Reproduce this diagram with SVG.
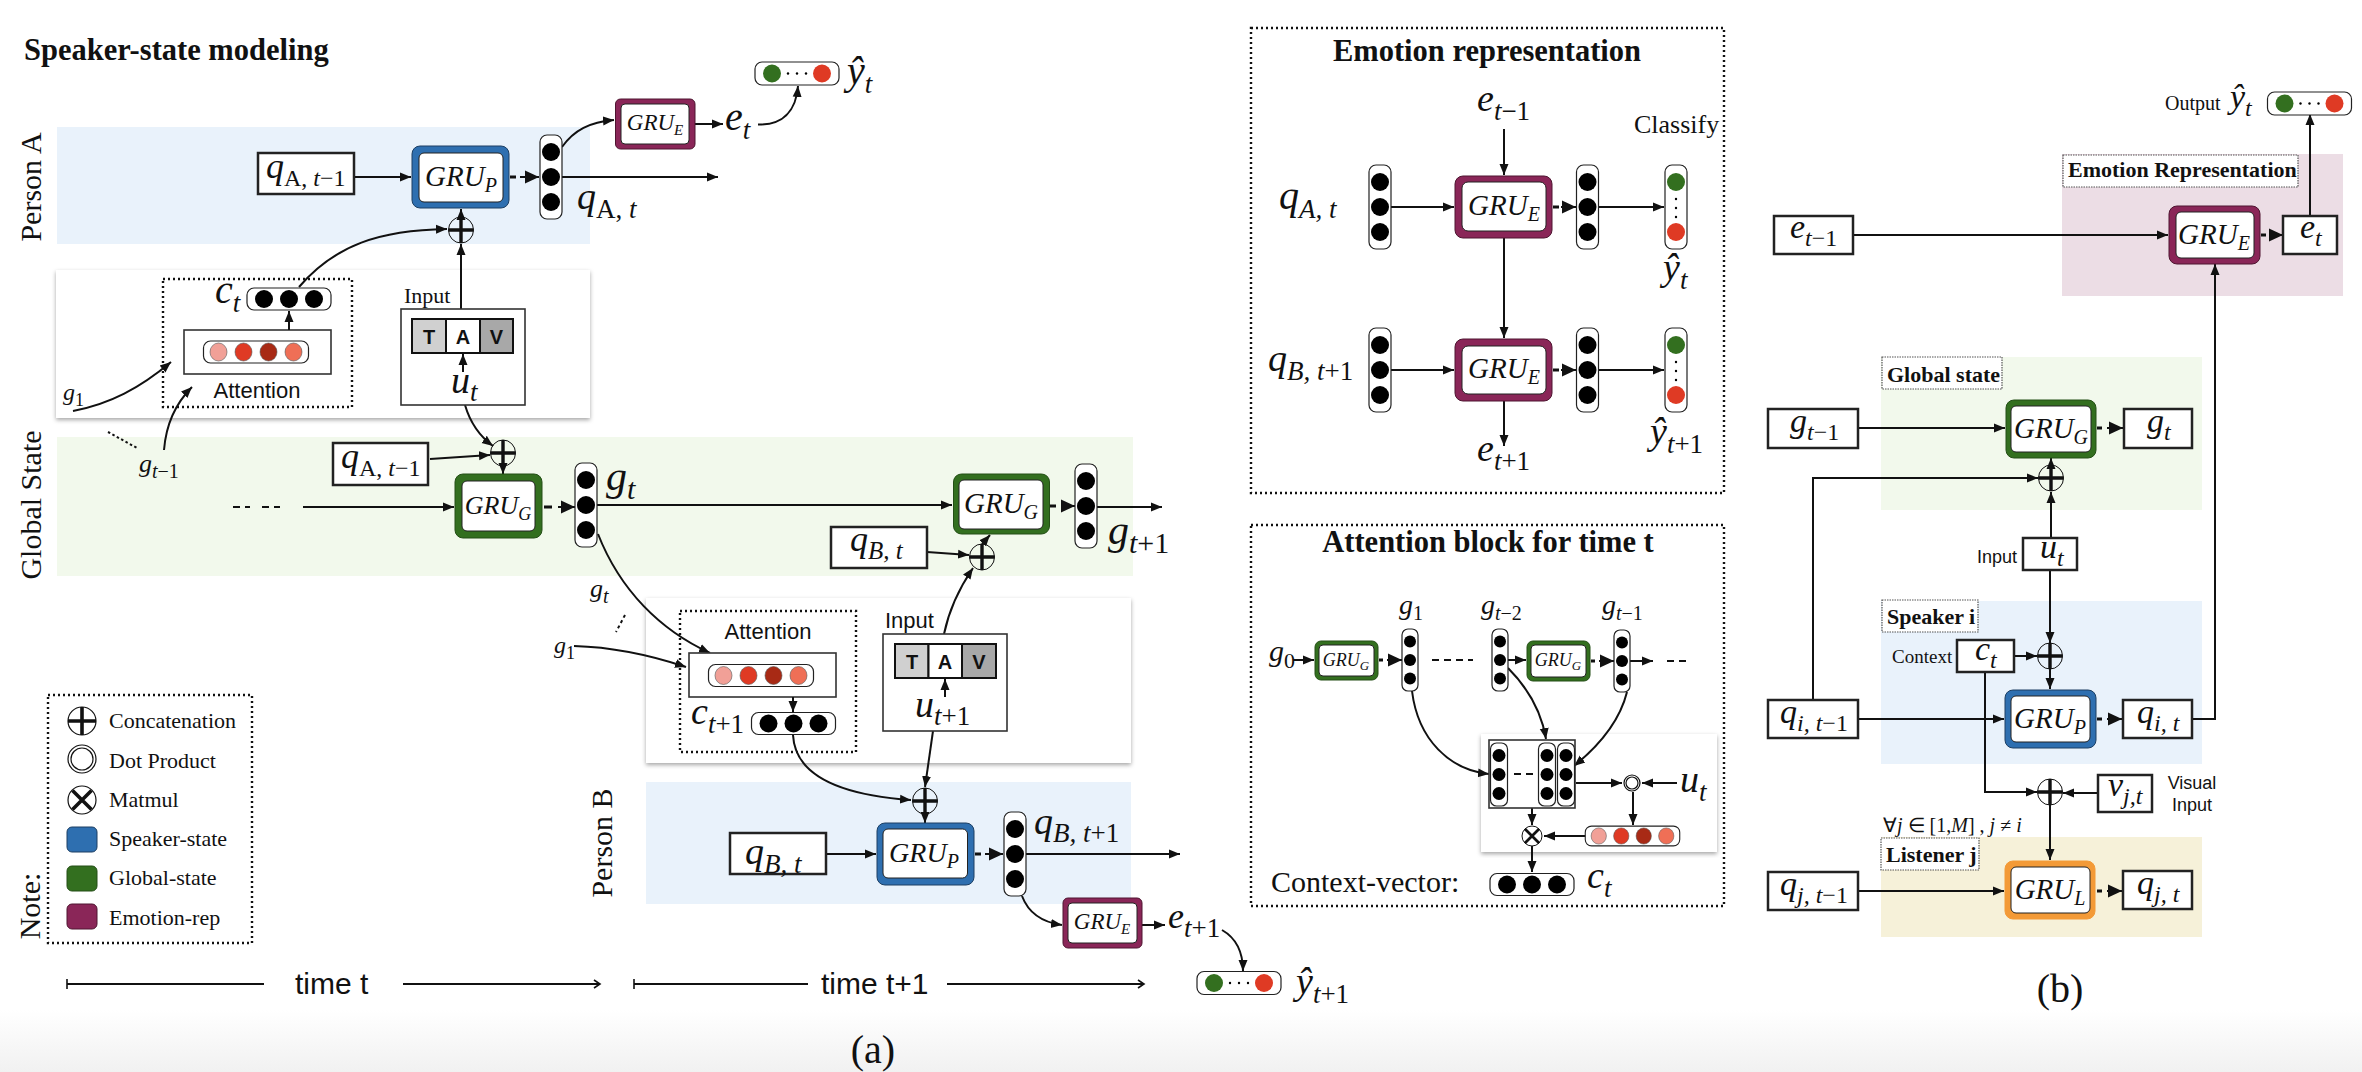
<svg xmlns="http://www.w3.org/2000/svg" width="2362" height="1072" viewBox="0 0 2362 1072">
<style>
text{fill:#111}
.m{font-family:"Liberation Serif",serif;font-style:italic}
.up{font-style:normal}
.ser{font-family:"Liberation Serif",serif}
.san{font-family:"Liberation Sans",sans-serif}
.b{font-weight:bold}
.f42{font-size:42px}.f40{font-size:40px}.f38{font-size:38px}.f36{font-size:36px}.f34{font-size:34px}.f32{font-size:32px}.f30{font-size:30px}.t30{font-size:30.500px}.f29{font-size:29px}.f28{font-size:28px}.f27{font-size:27px}.f26{font-size:26px}.f25{font-size:25px}.f24{font-size:24px}.f23{font-size:23px}.f22{font-size:22px}.f20{font-size:20px}.f19{font-size:19px}.f18{font-size:18px}.f15{font-size:15px}.f13{font-size:13px}
.c{text-anchor:middle}
.line{fill:none;stroke:#111;stroke-width:2}
.ar{marker-end:url(#a)}
.big{marker-end:url(#bg)}
.tm{marker-start:url(#tick);marker-end:url(#op)}
.dash{fill:none;stroke:#111;stroke-width:3}
.dsh2{fill:none;stroke:#111;stroke-width:2;stroke-dasharray:7 5}
.box{fill:#fff;stroke:#222;stroke-width:2.5}
.tbox{fill:#fff;stroke:#333;stroke-width:1.6}
.dot{fill:none;stroke:#111;stroke-width:2.4;stroke-dasharray:2 3}
.lab{fill:#fff;stroke:#555;stroke-width:1.2;stroke-dasharray:1.5 1}
.pan{fill:#fff;filter:url(#sh)}
.bA{fill:#e9f2fb}.bG{fill:#f2f9ec}.bE{fill:#ecdde5}.bL{fill:#f6f1d9}
.in{fill:#fff;stroke:#222;stroke-width:1}
.P{fill:#2e6fb0;stroke:#1c3f63;stroke-width:1}
.G{fill:#336f1f;stroke:#244f16;stroke-width:1}
.E{fill:#8a2658;stroke:#4e1530;stroke-width:1}
.L{fill:#f39a37;stroke:#f39a37;stroke-width:1}
.vr{fill:#fff;stroke:#222;stroke-width:1.2}
</style>
<defs>
<linearGradient id="bgG" x1="0" y1="0" x2="0" y2="1"><stop offset="0" stop-color="#fff"/><stop offset="1" stop-color="#f1f1f1"/></linearGradient>
<filter id="sh" x="-3%" y="-3%" width="106%" height="108%"><feDropShadow dx="0" dy="2" stdDeviation="2" flood-color="#000" flood-opacity=".35"/></filter>
<marker id="a" markerUnits="userSpaceOnUse" markerWidth="12" markerHeight="12" refX="11" refY="6" orient="auto"><path d="M0,1.5L11,6L0,10.5z" fill="#111"/></marker>
<marker id="bg" markerUnits="userSpaceOnUse" markerWidth="16" markerHeight="16" refX="15" refY="8" orient="auto"><path d="M1,1.5L15,8L1,14.5z" fill="#111"/></marker>
<marker id="op" markerUnits="userSpaceOnUse" markerWidth="10" markerHeight="10" refX="8" refY="5" orient="auto"><path d="M2,1L8,5L2,9" fill="none" stroke="#111" stroke-width="1.6"/></marker>
<marker id="tick" markerUnits="userSpaceOnUse" markerWidth="4" markerHeight="12" refX="1" refY="6" orient="auto"><path d="M1,1V11" fill="none" stroke="#111" stroke-width="1.6"/></marker>
<g id="vv"><rect class="vr" x="-11" y="-42" width="22" height="84" rx="7"/><circle cy="-25" r="9"/><circle r="9"/><circle cy="25" r="9"/></g>
<g id="hv"><rect class="vr" x="-42" y="-11" width="84" height="22" rx="7"/><circle cx="-25" r="9"/><circle r="9"/><circle cx="25" r="9"/></g>
<g id="vs"><rect class="vr" x="-8" y="-31" width="16" height="62" rx="6"/><circle cy="-18.5" r="6"/><circle r="6"/><circle cy="18.5" r="6"/></g>
<g id="vt"><rect class="vr" x="-8.5" y="-31.5" width="17" height="63" rx="6"/><circle cy="-19" r="6.5"/><circle r="6.5"/><circle cy="19" r="6.5"/></g>
<g id="rv"><rect class="vr" x="-52.5" y="-11" width="105" height="22" rx="7"/><ellipse cx="-37.5" rx="8.5" ry="9" fill="#f1a097" stroke="#555" stroke-width=".6"/><ellipse cx="-12.5" rx="8.5" ry="9" fill="#df3a24" stroke="#555" stroke-width=".6"/><ellipse cx="12.5" rx="8.5" ry="9" fill="#a82a15" stroke="#555" stroke-width=".6"/><ellipse cx="37.5" rx="8.5" ry="9" fill="#ef6f56" stroke="#555" stroke-width=".6"/></g>
<g id="ov"><rect class="vr" x="-42" y="-11.5" width="84" height="23" rx="7"/><circle cx="-25" r="9" fill="#336f1f"/><circle cx="25" r="9" fill="#df3a24"/><circle cx="-9" r="1.2"/><circle r="1.2"/><circle cx="9" r="1.2"/></g>
<g id="cv"><rect class="vr" x="-11" y="-42" width="22" height="84" rx="7"/><circle cy="-25" r="9" fill="#336f1f"/><circle cy="25" r="9" fill="#df3a24"/><circle cy="-8" r="1.2"/><circle cy="1" r="1.2"/><circle cy="10" r="1.2"/></g>
<g id="plus"><ellipse rx="12.5" ry="13" fill="none" stroke="#111" stroke-width="1"/><path d="M-12.5,0H12.5M0,-13V13" fill="none" stroke="#111" stroke-width="3.4"/></g>
</defs>
<rect width="2362" height="1072" fill="#fff"/>
<rect y="1010" width="2362" height="62" fill="url(#bgG)"/>

<g id="bands">
<rect class="bA" x="57" y="127" width="533" height="117"/>
<rect class="bG" x="57" y="437" width="1076" height="139"/>
<rect class="bA" x="646" y="782" width="485" height="122"/>
<rect class="pan" x="56" y="270" width="534" height="148"/>
<rect class="pan" x="646" y="598" width="485" height="165"/>
<rect class="pan" x="1481" y="734" width="236" height="118"/>
<rect class="bE" x="2062" y="154" width="281" height="142"/>
<rect class="bG" x="1881" y="357" width="321" height="153"/>
<rect class="bA" x="1881" y="601" width="321" height="163"/>
<rect class="bL" x="1881" y="837" width="321" height="100"/>
</g>

<g id="connectors">
<path class="line ar" d="M354,177H411"/>
<path class="dash" d="M510,177H516"/><path class="line big" d="M520,177H539"/>
<path class="line ar" d="M562,177H718"/>
<path class="line ar" d="M562,147C574,130 590,122 614,120"/>
<path class="line ar" d="M695,124H723"/>
<path class="line ar" d="M758,124.500C782,125 796,112 798,86"/>
<path class="line ar" d="M299,287C335,245 380,230 447,229"/>
<path class="line ar" d="M461,309V244"/>
<path class="line ar" d="M461,217V209"/>
<path class="line ar" d="M73,411C110,404 140,388 171,362"/>
<path class="line ar" d="M164,450C166,425 174,405 192,387"/>
<path class="dsh2" d="M108,432L137,448" style="stroke-dasharray:2.500 2.500"/>
<path class="dsh2" d="M233,507H250M262,507H280"/>
<path class="line ar" d="M303,507H454"/>
<path class="line ar" d="M430,459L490,455"/>
<path class="line ar" d="M465,405C470,422 478,435 493,446"/>
<path class="line ar" d="M503,466V474"/>
<path class="dash" d="M544,507H552"/><path class="line big" d="M558,507H575"/>
<path class="line ar" d="M597,505H952"/>
<path class="dash" d="M1050,506H1056"/><path class="line big" d="M1061,506H1075"/>
<path class="line ar" d="M1097,507H1162"/>
<path class="line ar" d="M927,552L969,555"/>
<path class="line ar" d="M982,544L990,535"/>
<path class="line ar" d="M944,634C949,610 958,590 973,568"/>
<path class="line ar" d="M598,534C620,590 660,630 710,653"/>
<path class="dsh2" d="M625,615L616,632" style="stroke-dasharray:3 3"/>
<path class="line ar" d="M574,646C610,647 650,655 686,667"/>
<path class="line ar" d="M933,731L925,787"/>
<path class="line ar" d="M793,735C795,775 840,795 911,800"/>
<path class="line ar" d="M925,814V823"/>
<path class="line ar" d="M826,854H876"/>
<path class="dash" d="M975,854H981"/><path class="line big" d="M985,854H1003"/>
<path class="line ar" d="M1026,854H1180"/>
<path class="line ar" d="M1022,896C1028,912 1040,922 1062,925"/>
<path class="line ar" d="M1142,925H1165"/>
<path class="line ar" d="M1222,930C1236,938 1243,952 1243,971"/>
<path class="line tm" d="M67,984H264" style="marker-end:none"/><path class="line tm" d="M403,984H600" style="marker-start:none"/>
<path class="line tm" d="M634,984H808" style="marker-end:none"/><path class="line tm" d="M947,984H1144" style="marker-start:none"/>

<path class="line ar" d="M1504,129V175"/>
<path class="line ar" d="M1391,207H1454"/>
<path class="dash" d="M1553,207H1559"/><path class="line big" d="M1561,207H1576"/>
<path class="line ar" d="M1599,207H1664"/>
<path class="line ar" d="M1504,238V338"/>
<path class="line ar" d="M1391,370H1454"/>
<path class="dash" d="M1553,370H1559"/><path class="line big" d="M1561,370H1576"/>
<path class="line ar" d="M1599,370H1664"/>
<path class="line ar" d="M1504,401V446"/>

<path class="line ar" d="M1293,660H1314"/>
<path class="dash" d="M1379,660H1383"/><path class="line big" d="M1387,660H1402"/>
<path class="dsh2" d="M1432,660H1473"/>
<path class="line ar" d="M1508,660H1526"/>
<path class="dash" d="M1591,661H1595"/><path class="line big" d="M1599,661H1614"/>
<path class="line ar" d="M1630,661H1653"/>
<path class="dsh2" d="M1667,661H1691"/>
<path class="line ar" d="M1412,691C1418,740 1450,770 1489,774"/>
<path class="line ar" d="M1508,668C1530,690 1542,715 1546,739"/>
<path class="line ar" d="M1627,692C1620,720 1600,745 1574,766"/>
<path class="dsh2" d="M1514,774H1533"/>
<path class="line ar" d="M1576,783H1622"/>
<path class="line ar" d="M1677,783H1642"/>
<path class="line ar" d="M1633,792V825"/>
<path class="line ar" d="M1586,836H1544"/>
<path class="line ar" d="M1532,808V825"/>
<path class="line ar" d="M1532,846V872"/>

<path class="line ar" d="M1853,235H2168"/>
<path class="dash" d="M2261,235H2266"/><path class="line big" d="M2269,235H2283"/>
<path class="line ar" d="M2310,216V114"/>
<path class="line ar" d="M2192,719H2215V264"/>
<path class="line ar" d="M1858,428H2005"/>
<path class="dash" d="M2097,428H2102"/><path class="line big" d="M2107,428H2123"/>
<path class="line ar" d="M1813,700V478H2038"/>
<path class="line ar" d="M2051,466V458"/>
<path class="line ar" d="M2051,538V492"/>
<path class="line ar" d="M2050,570V643"/>
<path class="line ar" d="M2014,656H2037"/>
<path class="line ar" d="M2050,669V689"/>
<path class="line ar" d="M1858,719H2004"/>
<path class="dash" d="M2097,719H2102"/><path class="line big" d="M2107,719H2122"/>
<path class="line ar" d="M1985,672V792H2037"/>
<path class="line ar" d="M2098,793H2063"/>
<path class="line ar" d="M2050,805V860"/>
<path class="line ar" d="M1858,891H2004"/>
<path class="dash" d="M2097,891H2102"/><path class="line big" d="M2107,891H2122"/>
</g>

<g id="title-a"><text class="ser b t30" x="24" y="60">Speaker-state modeling</text></g>
<g id="lbl-personA"><text class="ser f30 c" transform="translate(41,187) rotate(-90)">Person A</text></g>
<g id="lbl-global"><text class="ser f30 c" transform="translate(41,505) rotate(-90)">Global State</text></g>
<g id="lbl-personB"><text class="ser f30 c" transform="translate(612,843) rotate(-90)">Person B</text></g>
<g id="lbl-note"><text class="ser f30 c" transform="translate(40,906) rotate(-90)">Note:</text></g>

<g id="qA-prev"><rect class="box" x="258" y="153" width="96" height="41"/><text class="m f36" x="266" y="178">q<tspan class="f24 up" dy="8">A, </tspan><tspan class="f24">t</tspan><tspan class="f24 up">−1</tspan></text></g>
<g id="gruP-a"><rect class="P" x="412" y="146" width="97" height="62" rx="8"/><rect class="in" x="419" y="153" width="84" height="49" rx="5"/><text class="m f29 c" x="461" y="186">GRU<tspan class="f20" dy="6">P</tspan></text></g>
<use id="vec-qA" href="#vv" x="551" y="177"/>
<g id="lbl-qAt"><text class="m f38" x="577" y="209">q<tspan class="f27 up" dy="9">A, </tspan><tspan class="f27">t</tspan></text></g>
<g id="gruE-a"><rect class="E" x="615.500" y="99" width="79.500" height="50" rx="5"/><rect class="in" x="621" y="104" width="68" height="40" rx="4"/><text class="m f23 c" x="655" y="130">GRU<tspan class="f15" dy="5">E</tspan></text></g>
<g id="lbl-et"><text class="m f40" x="725" y="130">e<tspan class="f27" dy="9">t</tspan></text></g>
<use id="out-t" href="#ov" x="797" y="73.500"/>
<g id="lbl-yt"><text class="m f40" x="847" y="84">ŷ<tspan class="f27" dy="9">t</tspan></text></g>

<g id="att-a"><rect class="dot" x="163" y="279" width="189" height="128"/>
<text class="m f40" x="215" y="303">c<tspan class="f27" dy="9">t</tspan></text>
<use href="#hv" x="289" y="299"/>
<rect class="tbox" x="184" y="330" width="147" height="44"/>
<use href="#rv" x="256" y="352"/>
<text class="san f22 c" x="257" y="398">Attention</text></g>
<g id="input-a"><text class="ser f22" x="404" y="303">Input</text>
<rect class="tbox" x="401" y="309" width="124" height="96"/>
<rect x="412" y="319" width="34" height="34" fill="#d0d0d0" stroke="#111" stroke-width="2"/><rect x="446" y="319" width="34" height="34" fill="#fff" stroke="#111" stroke-width="2"/><rect x="480" y="319" width="33" height="34" fill="#a8a8a8" stroke="#111" stroke-width="2"/>
<text class="san b f20 c" x="429" y="344">T</text><text class="san b f20 c" x="463" y="344">A</text><text class="san b f20 c" x="496.500" y="344">V</text>
<text class="m f38" x="451" y="393">u<tspan class="f27" dy="8">t</tspan></text></g>
<use id="plus-a1" href="#plus" x="461" y="230"/>
<g id="lbl-g1a"><text class="m f24" x="63" y="400">g<tspan class="f18 up" dy="6">1</tspan></text></g>
<g id="lbl-gt1"><text class="m f26" x="139" y="472">g<tspan class="f20" dy="6">t</tspan><tspan class="f20 up">−1</tspan></text></g>

<g id="qA-prev2"><rect class="box" x="333" y="443" width="95" height="42"/><text class="m f36" x="341" y="468">q<tspan class="f24 up" dy="8">A, </tspan><tspan class="f24">t</tspan><tspan class="f24 up">−1</tspan></text></g>
<use id="plus-a2" href="#plus" x="503" y="453"/>
<g id="gruG-a"><rect class="G" x="455" y="474" width="87" height="64" rx="8"/><rect class="in" x="462" y="481" width="73" height="50" rx="5"/><text class="m f26 c" x="498" y="514">GRU<tspan class="f18" dy="6">G</tspan></text></g>
<use id="vec-gt" href="#vv" x="586" y="505"/>
<g id="lbl-gt"><text class="m f42" x="606" y="490">g<tspan class="f30" dy="9">t</tspan></text></g>
<g id="gruG-b"><rect class="G" x="953.500" y="474" width="96" height="60" rx="8"/><rect class="in" x="959" y="480" width="84" height="49" rx="5"/><text class="m f29 c" x="1001" y="513">GRU<tspan class="f20" dy="6">G</tspan></text></g>
<use id="vec-gt1" href="#vv" x="1086" y="506"/>
<g id="lbl-gt1b"><text class="m f42" x="1108" y="544">g<tspan class="f30" dy="9">t</tspan><tspan class="f30 up">+1</tspan></text></g>
<g id="qB-t"><rect class="box" x="831" y="527" width="96" height="41"/><text class="m f36" x="850" y="551">q<tspan class="f25" dy="8">B, t</tspan></text></g>
<use id="plus-a3" href="#plus" x="982" y="557"/>
<g id="lbl-gt2"><text class="m f26" x="590" y="597">g<tspan class="f20" dy="6">t</tspan></text></g>
<g id="lbl-g1b"><text class="m f24" x="554" y="653">g<tspan class="f18 up" dy="6">1</tspan></text></g>

<g id="att-b"><rect class="dot" x="680" y="611" width="176" height="141"/>
<text class="san f22 c" x="768" y="639">Attention</text>
<rect class="tbox" x="689" y="653" width="147" height="44"/>
<use href="#rv" x="761" y="675.500"/>
<use href="#hv" x="793.500" y="723.500"/>
<text class="m f38" x="691" y="724">c<tspan class="f27" dy="9">t</tspan><tspan class="f27 up">+1</tspan></text></g>
<g id="input-b"><text class="san f22" x="885" y="628">Input</text>
<rect class="tbox" x="883" y="634" width="124" height="97"/>
<rect x="895" y="644" width="33.500" height="34" fill="#d0d0d0" stroke="#111" stroke-width="2"/><rect x="928.500" y="644" width="33.500" height="34" fill="#fff" stroke="#111" stroke-width="2"/><rect x="962" y="644" width="34" height="34" fill="#a8a8a8" stroke="#111" stroke-width="2"/>
<text class="san b f20 c" x="912" y="669">T</text><text class="san b f20 c" x="945" y="669">A</text><text class="san b f20 c" x="979" y="669">V</text>
<text class="m f38" x="915" y="717">u<tspan class="f27" dy="8">t</tspan><tspan class="f27 up">+1</tspan></text></g>
<use id="plus-b1" href="#plus" x="925" y="801"/>
<g id="qB-t2"><rect class="box" x="730" y="833" width="96" height="41"/><text class="m f38" x="745" y="864">q<tspan class="f27" dy="9">B, t</tspan></text></g>
<g id="gruP-b"><rect class="P" x="877" y="823" width="97" height="62" rx="8"/><rect class="in" x="883" y="829" width="84.500" height="49" rx="5"/><text class="m f28 c" x="924" y="862">GRU<tspan class="f20" dy="6">P</tspan></text></g>
<use id="vec-qB" href="#vv" x="1015" y="854"/>
<g id="lbl-qBt"><text class="m f38" x="1034" y="834">q<tspan class="f27" dy="8">B, t</tspan><tspan class="f27 up">+1</tspan></text></g>
<g id="gruE-b"><rect class="E" x="1063" y="898" width="79" height="50" rx="5"/><rect class="in" x="1068" y="903" width="69" height="40" rx="4"/><text class="m f23 c" x="1102" y="929">GRU<tspan class="f15" dy="5">E</tspan></text></g>
<g id="lbl-et1"><text class="m f36" x="1168" y="928">e<tspan class="f27" dy="9">t</tspan><tspan class="f27 up">+1</tspan></text></g>
<use id="out-t1" href="#ov" x="1239" y="983"/>
<g id="lbl-yt1"><text class="m f38" x="1296" y="994">ŷ<tspan class="f27" dy="9">t</tspan><tspan class="f27 up">+1</tspan></text></g>

<g id="time"><text class="san f30" x="295" y="994">time t</text><text class="san f30" x="821" y="994">time t+1</text></g>
<g id="cap-a"><text class="ser f40 c" x="873" y="1063">(a)</text></g>

<g id="legend"><rect class="dot" x="48" y="695" width="204" height="248"/>
<g transform="translate(82,721)"><ellipse rx="14" ry="14" fill="none" stroke="#111" stroke-width="1.200"/><path d="M-14,0H14M0,-14V14" stroke="#111" stroke-width="3.600"/></g>
<circle cx="82" cy="759" r="14" fill="none" stroke="#111" stroke-width="1.200"/><circle cx="82" cy="759" r="11" fill="none" stroke="#111" stroke-width="1.200"/>
<g transform="translate(82,800)"><circle r="14" fill="none" stroke="#111" stroke-width="1.200"/><path d="M-9.500,-9.500L9.500,9.500M9.500,-9.500L-9.500,9.500" stroke="#111" stroke-width="3.600"/></g>
<rect class="P" x="67" y="827" width="30" height="25" rx="5"/><rect class="G" x="67" y="866" width="30" height="25" rx="5"/><rect class="E" x="67" y="904" width="30" height="25" rx="5"/>
<text class="ser f22" x="109" y="728">Concatenation</text><text class="ser f22" x="109" y="768">Dot Product</text><text class="ser f22" x="109" y="807">Matmul</text><text class="ser f22" x="109" y="846">Speaker-state</text><text class="ser f22" x="109" y="885">Global-state</text><text class="ser f22" x="109" y="925">Emotion-rep</text></g>

<g id="emotion-panel"><rect class="dot" x="1251" y="28" width="473" height="465"/>
<text class="ser b t30 c" x="1487" y="61">Emotion representation</text>
<text class="m f38" x="1477" y="111">e<tspan class="f27" dy="9">t</tspan><tspan class="f27 up">−1</tspan></text>
<text class="ser f26" x="1634" y="133">Classify</text>
<text class="m f40" x="1279" y="209">q<tspan class="f27" dy="9">A, t</tspan></text>
<text class="m f38" x="1268" y="371">q<tspan class="f27" dy="9">B, t</tspan><tspan class="f27 up">+1</tspan></text>
<use href="#vv" x="1380" y="207"/><use href="#vv" x="1587.500" y="207"/><use href="#cv" x="1676" y="207"/>
<use href="#vv" x="1380" y="370"/><use href="#vv" x="1587.500" y="370"/><use href="#cv" x="1676" y="370"/>
<rect class="E" x="1455" y="176" width="97" height="62" rx="8"/><rect class="in" x="1462" y="182" width="84" height="49" rx="6"/><text class="m f29 c" x="1504" y="215">GRU<tspan class="f20" dy="6">E</tspan></text>
<rect class="E" x="1455" y="339" width="97" height="62" rx="8"/><rect class="in" x="1462" y="346" width="84" height="48" rx="6"/><text class="m f29 c" x="1504" y="378">GRU<tspan class="f20" dy="6">E</tspan></text>
<text class="m f38" x="1663" y="280">ŷ<tspan class="f27" dy="9">t</tspan></text>
<text class="m f38" x="1650" y="444">ŷ<tspan class="f27" dy="9">t</tspan><tspan class="f27 up">+1</tspan></text>
<text class="m f38" x="1477" y="461">e<tspan class="f27" dy="9">t</tspan><tspan class="f27 up">+1</tspan></text></g>

<g id="attention-panel"><rect class="dot" x="1251" y="525" width="473" height="381"/>
<text class="ser b t30 c" x="1488" y="552">Attention block for time t</text>
<text class="m f30" x="1269" y="661">g<tspan class="f22 up" dy="7">0</tspan></text>
<rect class="G" x="1315" y="641" width="63" height="39" rx="6"/><rect class="in" x="1319" y="645" width="55" height="31" rx="4"/><text class="m f18 c" x="1346" y="666">GRU<tspan class="f13" dy="4">G</tspan></text>
<rect class="G" x="1527" y="641" width="63" height="40" rx="6"/><rect class="in" x="1531" y="645" width="55" height="32" rx="4"/><text class="m f18 c" x="1558" y="666">GRU<tspan class="f13" dy="4">G</tspan></text>
<use href="#vs" x="1410" y="660"/><use href="#vs" x="1500" y="660"/><use href="#vs" x="1622" y="661"/>
<text class="m f28" x="1399" y="614">g<tspan class="f20 up" dy="6">1</tspan></text>
<text class="m f28" x="1481" y="614">g<tspan class="f20" dy="6">t</tspan><tspan class="f20 up">−2</tspan></text>
<text class="m f28" x="1602" y="614">g<tspan class="f20" dy="6">t</tspan><tspan class="f20 up">−1</tspan></text>
<rect x="1489" y="740" width="86" height="68" fill="none" stroke="#333" stroke-width="1.600"/>
<use href="#vt" x="1499" y="774.500"/><use href="#vt" x="1547" y="774.500"/><use href="#vt" x="1566" y="774.500"/>
<circle cx="1632" cy="783" r="8" fill="none" stroke="#111" stroke-width="1.200"/><circle cx="1632" cy="783" r="6" fill="none" stroke="#111" stroke-width="1.200"/>
<text class="m f38" x="1680" y="792">u<tspan class="f27" dy="9">t</tspan></text>
<use href="#rv" transform="translate(1632.500,836) scale(.9,.9)"/>
<g transform="translate(1532,836)"><circle r="10" fill="#fff" stroke="#111" stroke-width="1"/><path d="M-7,-7L7,7M7,-7L-7,7" stroke="#111" stroke-width="2.800"/></g>
<use href="#hv" x="1532" y="884.500"/>
<text class="m f38" x="1587" y="888">c<tspan class="f27" dy="9">t</tspan></text>
<text class="ser f30" x="1271" y="892">Context-vector:</text></g>

<g id="out-b"><text class="ser f20" x="2165" y="110">Output</text><text class="m f34" x="2230" y="108">ŷ<tspan class="f24" dy="8">t</tspan></text><use href="#ov" transform="translate(2309.500,103.500)"/></g>
<g id="lab-emo"><rect class="lab" x="2063" y="155" width="235" height="32"/><text class="ser b f22" x="2068" y="177">Emotion Representation</text></g>
<g id="et1-b"><rect class="box" x="1774" y="216" width="79" height="38"/><text class="m f34" x="1790" y="238">e<tspan class="f24" dy="8">t</tspan><tspan class="f24 up">−1</tspan></text></g>
<g id="gruE-c"><rect class="E" x="2169" y="206" width="91" height="58" rx="8"/><rect class="in" x="2176" y="212" width="78" height="46" rx="5"/><text class="m f29 c" x="2214" y="244">GRU<tspan class="f20" dy="6">E</tspan></text></g>
<g id="et-b"><rect class="box" x="2283" y="216" width="54" height="38"/><text class="m f34" x="2300" y="238">e<tspan class="f24" dy="8">t</tspan></text></g>
<g id="lab-glob"><rect class="lab" x="1882" y="357" width="120" height="32"/><text class="ser b f22" x="1887" y="382">Global state</text></g>
<g id="gt1-c"><rect class="box" x="1768" y="409" width="90" height="39"/><text class="m f34" x="1790" y="432">g<tspan class="f24" dy="8">t</tspan><tspan class="f24 up">−1</tspan></text></g>
<g id="gruG-c"><rect class="G" x="2006" y="400" width="90" height="58" rx="8"/><rect class="in" x="2011" y="406" width="80" height="46" rx="5"/><text class="m f29 c" x="2051" y="438">GRU<tspan class="f20" dy="6">G</tspan></text></g>
<g id="gt-c"><rect class="box" x="2124" y="409" width="68" height="39"/><text class="m f34" x="2147" y="432">g<tspan class="f24" dy="8">t</tspan></text></g>
<use id="plus-c1" href="#plus" x="2051" y="478"/>
<g id="ut-c"><text class="san f18" x="1977" y="563">Input</text><rect class="box" x="2023" y="538" width="54" height="32"/><text class="m f34" x="2040" y="558">u<tspan class="f24" dy="8">t</tspan></text></g>
<g id="lab-spk"><rect class="lab" x="1882" y="600" width="96" height="32"/><text class="ser b f22" x="1887" y="624">Speaker i</text></g>
<g id="ct-c"><text class="ser f19" x="1892" y="663">Context</text><rect class="box" x="1957" y="640" width="57" height="32"/><text class="m f34" x="1975" y="660">c<tspan class="f24" dy="8">t</tspan></text></g>
<use id="plus-c2" href="#plus" x="2050" y="656"/>
<g id="qi1"><rect class="box" x="1768" y="700" width="90" height="38"/><text class="m f34" x="1780" y="723">q<tspan class="f24" dy="8">i, t</tspan><tspan class="f24 up">−1</tspan></text></g>
<g id="gruP-c"><rect class="P" x="2005" y="690" width="91" height="58" rx="8"/><rect class="in" x="2011" y="696" width="79" height="46" rx="5"/><text class="m f29 c" x="2050" y="728">GRU<tspan class="f20" dy="6">P</tspan></text></g>
<g id="qi"><rect class="box" x="2123" y="700" width="69" height="38"/><text class="m f34" x="2137" y="723">q<tspan class="f24" dy="8">i, t</tspan></text></g>
<use id="plus-c3" href="#plus" x="2050" y="792"/>
<g id="vjt"><rect class="box" x="2098" y="775" width="54" height="37"/><text class="m f34" x="2108" y="796">v<tspan class="f24" dy="8">j,t</tspan></text></g>
<g id="vis"><text class="san f18 c" x="2192" y="789">Visual</text><text class="san f18 c" x="2192" y="811">Input</text></g>
<g id="forall"><text class="m f20" x="1883" y="832"><tspan class="up">∀</tspan>j <tspan class="up">∈ [1,</tspan>M<tspan class="up">] , </tspan>j <tspan class="up">≠ </tspan>i</text></g>
<g id="lab-lis"><rect class="lab" x="1881" y="838" width="98" height="32"/><text class="ser b f22" x="1886" y="862">Listener j</text></g>
<g id="qj1"><rect class="box" x="1768" y="872" width="90" height="38"/><text class="m f34" x="1780" y="895">q<tspan class="f24" dy="8">j, t</tspan><tspan class="f24 up">−1</tspan></text></g>
<g id="gruL"><rect class="L" x="2005" y="861" width="90" height="58" rx="8"/><rect class="in" x="2011" y="867" width="79" height="46" rx="5"/><text class="m f29 c" x="2050" y="899">GRU<tspan class="f20" dy="6">L</tspan></text></g>
<g id="qj"><rect class="box" x="2123" y="871" width="69" height="38"/><text class="m f34" x="2137" y="894">q<tspan class="f24" dy="8">j, t</tspan></text></g>
<g id="cap-b"><text class="ser f40 c" x="2060" y="1002">(b)</text></g>

<g id="connectors-inner">
<path class="line ar" d="M289,330V311"/>
<path class="line ar" d="M463,372V354"/>
<path class="line ar" d="M793,697V712"/>
<path class="line ar" d="M945,697V679"/>
</g>
</svg>
